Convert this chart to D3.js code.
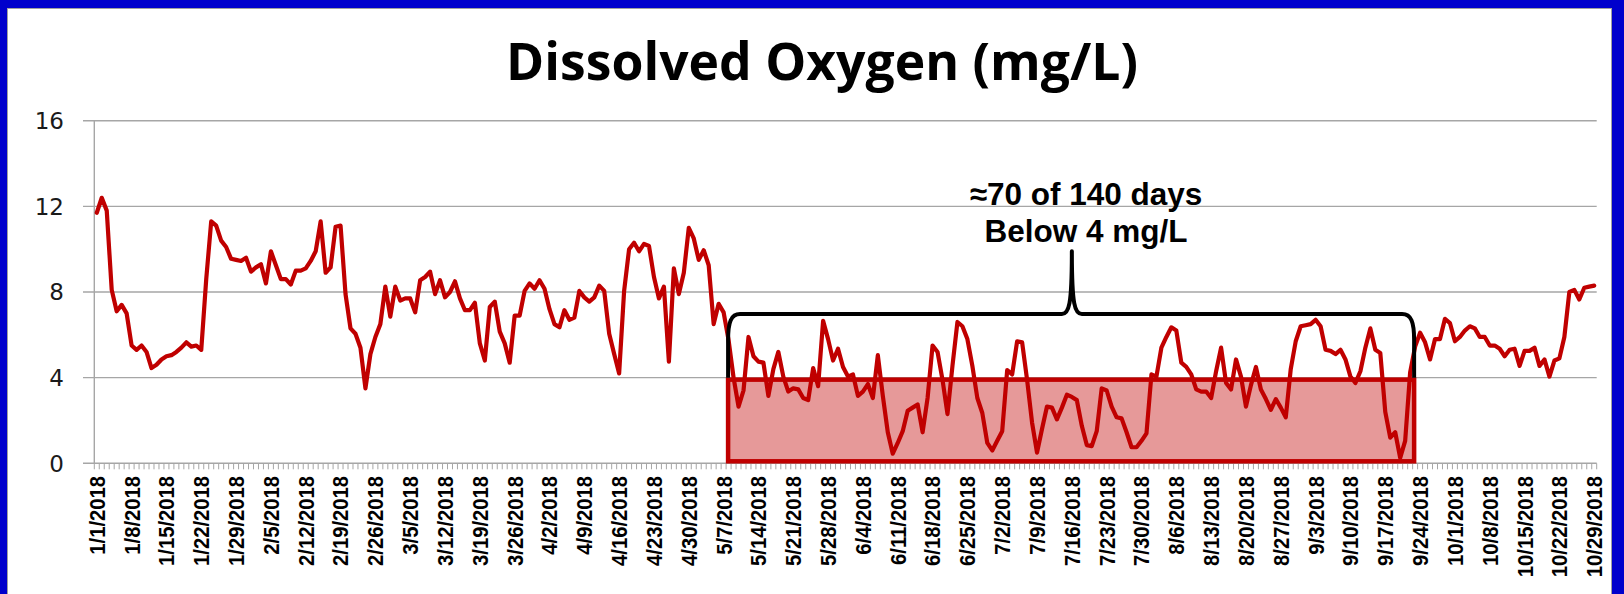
<!DOCTYPE html>
<html>
<head>
<meta charset="utf-8">
<script src="https://cdn.jsdelivr.net/npm/d3@7"></script>
<style>
  body { margin: 0; background: #fff; }
</style>
</head>
<body>
<div id="chart"></div>
<script>
// Oxigeno disuelto diario (mg/L), 1/1/2018 - 10/29/2018, un array por mes
var janValues = [11.7, 12.4, 11.8, 8.1, 7.1, 7.4, 7.0, 5.5, 5.3, 5.5,
                 5.2, 4.45, 4.6, 4.85, 5.0, 5.05, 5.2, 5.4, 5.65, 5.45,
                 5.5, 5.3, 8.6, 11.3, 11.1, 10.4, 10.1, 9.55, 9.5, 9.45, 9.6]
var febValues = [8.95, 9.15, 9.3, 8.4, 9.9, 9.25, 8.6, 8.6, 8.35, 9.0,
                 9.0, 9.1, 9.45, 9.9, 11.3, 8.9, 9.15, 11.05, 11.1, 7.9,
                 6.3, 6.05, 5.4, 3.5, 5.1, 5.9, 6.5, 8.25]
var marValues = [6.85, 8.25, 7.6, 7.7, 7.7, 7.05, 8.55, 8.7, 8.95, 7.9,
                 8.55, 7.75, 8.0, 8.5, 7.7, 7.15, 7.15, 7.5, 5.6, 4.8,
                 7.3, 7.55, 6.15, 5.6, 4.7, 6.9, 6.9, 8.05, 8.4, 8.15, 8.55]
var aprValues = [8.15, 7.2, 6.5, 6.35, 7.15, 6.7, 6.8, 8.05, 7.75, 7.55,
                 7.75, 8.3, 8.05, 6.05, 5.1, 4.2, 8.05, 10.0, 10.3, 9.9,
                 10.25, 10.15, 8.7, 7.7, 8.25, 4.75, 9.1, 7.9, 8.9, 11.0]
var mayValues = [10.5, 9.5, 9.95, 9.25, 6.5, 7.45, 7.05, 5.75, 4.0, 2.65,
                 3.4, 5.9, 5.0, 4.75, 4.7, 3.15, 4.4, 5.2, 4.05, 3.35,
                 3.5, 3.45, 3.05, 2.95, 4.45, 3.6, 6.65, 5.8, 4.8, 5.35, 4.5]
var junValues = [4.05, 4.15, 3.15, 3.35, 3.7, 3.05, 5.05, 3.15, 1.45, 0.45,
                 0.95, 1.5, 2.45, 2.6, 2.75, 1.45, 3.05, 5.5, 5.2, 3.9,
                 2.3, 4.55, 6.6, 6.4, 5.8, 4.55, 3.05, 2.35, 0.95, 0.6]
var julValues = [1.05, 1.5, 4.35, 4.15, 5.7, 5.65, 3.9, 1.9, 0.5, 1.6,
                 2.65, 2.6, 2.05, 2.6, 3.2, 3.1, 2.95, 1.75, 0.85, 0.8,
                 1.5, 3.5, 3.4, 2.65, 2.15, 2.1, 1.45, 0.75, 0.75, 1.05, 1.4]
var augValues = [4.15, 4.05, 5.4, 5.9, 6.35, 6.2, 4.7, 4.5, 4.15, 3.45,
                 3.35, 3.35, 3.05, 4.3, 5.4, 3.75, 3.45, 4.85, 4.05, 2.65,
                 3.65, 4.5, 3.45, 3.0, 2.5, 3.0, 2.6, 2.15, 4.4, 5.7, 6.4]
var sepValues = [6.45, 6.5, 6.7, 6.4, 5.3, 5.25, 5.1, 5.3, 4.85, 4.05,
                 3.75, 4.3, 5.4, 6.3, 5.3, 5.15, 2.4, 1.2, 1.45, 0.25,
                 1.05, 4.25, 5.45, 6.1, 5.65, 4.85, 5.8, 5.8, 6.75, 6.55]
var octValues = [5.7, 5.9, 6.2, 6.4, 6.3, 5.9, 5.9, 5.5, 5.5, 5.35,
                 5.0, 5.3, 5.35, 4.55, 5.25, 5.25, 5.4, 4.55, 4.85, 4.05,
                 4.8, 4.9, 5.9, 8.0, 8.1, 7.65, 8.2, 8.25, 8.3]

var yTicks = [0, 4, 8, 12, 16]
var startDate = new Date(2018, 0, 1)
var labelStep = 7                       // una etiqueta por semana
var shadeStart = 126.9, shadeEnd = 264.8 // dias del tramo sombreado
var limitValue = 4
var braceValue = 6.97, bracePeakDay = 196, bracePeakValue = 9.9
var annotation = ["\u224870 of 140 days", "Below 4 mg/L"]
var title = "Dissolved Oxygen (mg/L)"

var values = [].concat(janValues, febValues, marValues, aprValues, mayValues,
                       junValues, julValues, augValues, sepValues, octValues)
var dates = values.map((d, i) => d3.timeDay.offset(startDate, i))
var fmt = d3.timeFormat("%-m/%-d/%Y")

//Lienzo
var width = 1624
var height = 594
var svg = d3.select("#chart")
            .append("svg")
            .attr("width", width)
            .attr("height", height)

//Marco azul
svg.append("rect").attr("width", width).attr("height", height).attr("fill", "#0000cc")
svg.append("rect")
   .attr("x", 7.5).attr("y", 8.5)
   .attr("width", 1604).attr("height", height)
   .attr("fill", "#fff")
   .attr("stroke", "#a0a0a0").attr("stroke-width", 1)

//Escalas
var x = d3.scaleLinear()
          .domain([-0.5, values.length - 0.5])
          .range([94.3, 1596.7])
var y = d3.scaleLinear()
          .domain([0, 16])
          .range([463.3, 120.7])

//Titulo, ajustado al ancho del original
var titleText = svg.append("text")
   .attr("x", 822)
   .attr("y", 80)
   .attr("text-anchor", "middle")
   .style("font-family", "'Open Sans', Lato, sans-serif")
   .style("font-weight", "bold")
   .style("font-size", "46px")
   .attr("fill", "#000")
   .text(title)
var titleW = titleText.node().getComputedTextLength()
titleText.style("font-size", (46 * 632 / titleW) + "px")

//Lineas de rejilla y etiquetas Y
var gridColor = "#a6a6a6"
svg.append("g")
   .selectAll("line")
   .data(yTicks)
   .enter()
   .append("line")
   .attr("x1", 83).attr("x2", x.range()[1])
   .attr("y1", d => y(d)).attr("y2", d => y(d))
   .attr("stroke", gridColor)
   .attr("stroke-width", 1.4)

svg.append("line")
   .attr("x1", x.range()[0]).attr("x2", x.range()[0])
   .attr("y1", y(16)).attr("y2", y(0))
   .attr("stroke", gridColor)
   .attr("stroke-width", 1.4)

svg.append("g")
   .selectAll("text")
   .data(yTicks)
   .enter()
   .append("text")
   .attr("x", 64)
   .attr("y", d => y(d))
   .attr("dy", "0.36em")
   .attr("text-anchor", "end")
   .style("font-family", "'DejaVu Sans', sans-serif")
   .style("font-size", "23px")
   .attr("fill", "#1a1a1a")
   .text(d => d)

//Marcas diarias del eje X
svg.append("g")
   .selectAll("line")
   .data(d3.range(values.length + 1))
   .enter()
   .append("line")
   .attr("x1", d => x(d - 0.5)).attr("x2", d => x(d - 0.5))
   .attr("y1", y(0)).attr("y2", y(0) + 6)
   .attr("stroke", gridColor)
   .attr("stroke-width", 1)

//Etiquetas semanales (algo estrechas, como en el original)
svg.append("g")
   .selectAll("text")
   .data(d3.range(0, values.length, labelStep))
   .enter()
   .append("text")
   .attr("transform", d => `translate(${x(d)},476) rotate(-90) scale(0.92,1)`)
   .attr("dy", "0.36em")
   .attr("text-anchor", "end")
   .style("font-family", "'Liberation Sans', Arial, sans-serif")
   .style("font-weight", "bold")
   .style("font-size", "22px")
   .attr("fill", "#000")
   .text(d => fmt(dates[d]))

//Zona bajo 4 mg/L
var red = "#c00000"
svg.append("rect")
   .attr("x", x(shadeStart))
   .attr("y", y(limitValue) + 2)
   .attr("width", x(shadeEnd) - x(shadeStart))
   .attr("height", y(0) - y(limitValue) - 4)
   .attr("fill", red)
   .attr("fill-opacity", 0.4)
   .attr("stroke", red)
   .attr("stroke-width", 4.5)

//Serie
var line = d3.line()
             .x((d, i) => x(i))
             .y(d => y(d))
svg.append("path")
   .datum(values)
   .attr("d", line)
   .attr("fill", "none")
   .attr("stroke", red)
   .attr("stroke-width", 4.2)
   .attr("stroke-linejoin", "round")
   .attr("stroke-linecap", "round")

//Llave
var xl = x(shadeStart), xr = x(shadeEnd), xp = x(bracePeakDay)
var yb = y(limitValue), yt = y(braceValue), yp = y(bracePeakValue)
var brace = `M${xl},${yb} L${xl},${yt + 26} C${xl},${yt + 8} ${xl + 3},${yt} ${xl + 12},${yt}
             L${xp - 10},${yt} C${xp - 3},${yt} ${xp},${yt - 8} ${xp},${yp}
             C${xp},${yt - 8} ${xp + 3},${yt} ${xp + 10},${yt}
             L${xr - 12},${yt} C${xr - 3},${yt} ${xr},${yt + 8} ${xr},${yt + 26} L${xr},${yb}`
svg.append("path")
   .attr("d", brace)
   .attr("fill", "none")
   .attr("stroke", "#000")
   .attr("stroke-width", 4)
   .attr("stroke-linejoin", "round")

//Texto de la anotacion
svg.append("g")
   .selectAll("text")
   .data(annotation)
   .enter()
   .append("text")
   .attr("x", 1086)
   .attr("y", (d, i) => 205 + i * 37)
   .attr("text-anchor", "middle")
   .style("font-family", "'Liberation Sans', Arial, sans-serif")
   .style("font-weight", "bold")
   .style("font-size", "31.5px")
   .attr("fill", "#000")
   .text(d => d)
</script>
</body>
</html>
